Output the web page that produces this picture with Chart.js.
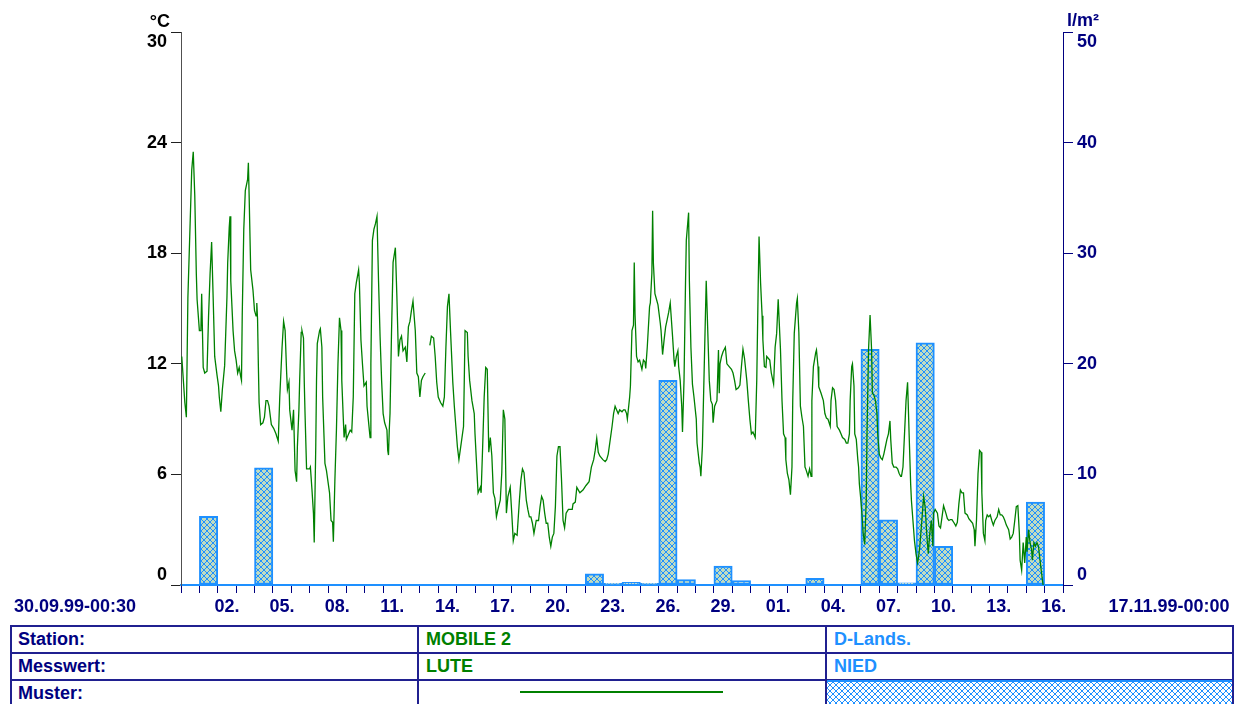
<!DOCTYPE html>
<html>
<head>
<meta charset="utf-8">
<script src="https://cdn.jsdelivr.net/npm/chart.js@4"></script>
<style>
  body { margin: 0; width: 1247px; height: 704px; overflow: hidden; background: #fff; position: relative; font-family: "Liberation Sans", Arial, sans-serif; }
  #grafico { position: absolute; left: 0; top: 0; }
  .linea { position: absolute; background: #202090; }
  .txt { position: absolute; font-weight: bold; font-size: 18px; line-height: 27px; white-space: nowrap; }
</style>
</head>
<body>
<canvas id="grafico" width="1247" height="620"></canvas>

<div class="linea" style="left:10px; top:625px; width:1224px; height:2px;"></div>
<div class="linea" style="left:10px; top:652px; width:1224px; height:2px;"></div>
<div class="linea" style="left:10px; top:679px; width:1224px; height:2px;"></div>
<div class="linea" style="left:10px; top:625px; width:2px; height:90px;"></div>
<div class="linea" style="left:417px; top:625px; width:2px; height:90px;"></div>
<div class="linea" style="left:825px; top:625px; width:2px; height:90px;"></div>
<div class="linea" style="left:1232px; top:625px; width:2px; height:90px;"></div>

<div class="txt" style="left:18px; top:626px; color:#000080;">Station:</div>
<div class="txt" style="left:18px; top:653px; color:#000080;">Messwert:</div>
<div class="txt" style="left:18px; top:680px; color:#000080;">Muster:</div>
<div class="txt" style="left:426px; top:626px; color:#008000;">MOBILE 2</div>
<div class="txt" style="left:426px; top:653px; color:#008000;">LUTE</div>
<div class="txt" style="left:834px; top:626px; color:#1e90ff;">D-Lands.</div>
<div class="txt" style="left:834px; top:653px; color:#1e90ff;">NIED</div>
<div style="position:absolute; left:520px; top:691px; width:203px; height:2px; background:#008000;"></div>
<div id="muster" style="position:absolute; left:827px; top:680px; width:405px; height:30px; border-top:2px solid #1e90ff; box-sizing:border-box;"></div>

<script>
// Tiempos (horas desde 30.09.99 00:00) y temperatura del aire (°C), estación MOBILE 2
const lute = [
  [1,12.4],[5,9.9],[7,9.1],[9,15.6],[14,22.5],[16,23.5],[18,21.1],[20,16.9],[21,15.5],[24,13.8],[26,13.8],[27,15.8],[28,13.8],[29,11.8],[31,11.5],[34,11.6],[36,14.6],[38,16.9],[40,18.6],[42,15.6],[44,12.4],[47,11.4],[49,10.8],[50,10.2],[52,9.4],[54,10.6],[57,11.9],[60,15.6],[61,17.5],[63,19.4],[64,20.0],[65,16.5],[68,13.8],[70,12.7],[72,12.2],[74,11.5],[76,11.8],[78,11.3],[79,11.1],[80,14.7],[82,19.3],[84,21.4],[87,22.0],[88,22.9],[89,21.1],[91,17.1],[94,16.0],[96,14.9],[98,14.6],[99,15.3],[100,14.4],[101,12.0],[102,9.9],[104,8.7],[107,8.8],[109,9.1],[111,10.0],[113,10.0],[115,9.7],[118,8.7],[121,8.5],[124,8.2],[127,7.8],[129,10.2],[132,12.9],[134,14.3],[136,13.8],[138,11.5],[139,10.6],[141,11.0],[142,9.5],[145,8.4],[147,9.5],[149,6.2],[151,5.6],[152,7.5],[154,9.5],[155,11.1],[157,13.7],[158,13.8],[160,13.4],[161,11.0],[162,9.3],[164,6.3],[168,6.3],[169,6.4],[171,5.2],[173,3.9],[174,2.3],[176,7.5],[177,11.1],[178,13.1],[181,13.8],[182,13.9],[184,12.9],[185,10.2],[188,6.6],[190,6.2],[194,5.0],[196,3.5],[198,3.4],[199,2.35],
  [201,5.7],[203,8.4],[205,12.0],[207,14.5],[209,13.8],[210,11.1],[212,9.0],[213,8.0],[215,8.7],[216,7.9],[219,8.2],[221,8.4],[223,8.3],[225,10.2],[227,15.8],[229,16.4],[232,17.1],[233,16.4],[235,13.3],[237,12.0],[239,10.8],[242,11.0],[243,9.7],[246,8.4],[247,8.0],[248,12.0],[250,18.7],[252,19.3],[254,19.6],[256,20.0],[258,16.5],[260,13.5],[262,11.1],[264,9.3],[266,8.8],[269,8.4],[270,7.3],[271,7.05],[272,8.4],[273,9.3],[275,13.8],[277,17.5],[280,18.3],[282,15.6],[284,12.4],[286,13.3],[288,13.5],[290,12.7],[293,12.9],[295,12.1],[297,14.0],[299,14.3],[301,14.9],[303,15.4],[306,13.8],[308,11.5],[310,11.3],[312,10.2],[314,11.1],[316,11.3],[319,11.5],[321,null],[325,13.0],[327,13.5],[330,13.4],[332,12.4],[334,11.0],[336,10.2],[339,9.9],[342,9.7],[344,10.2],[346,12.9],[348,15.1],[350,15.8],[352,13.8],[355,11.0],[357,9.7],[359,8.6],[361,7.5],[363,6.8],[366,7.7],[369,8.6],[370,11.1],[371,13.8],[374,13.7],[375,12.4],[377,11.1],[380,10.0],[383,9.3],[384,8.2],[386,6.6],[388,5.0],[391,5.3],[392,5.0],[394,7.5],[396,10.2],[398,11.8],[400,11.7],
  [402,7.2],[404,8.0],[406,7.0],[408,5.0],[410,4.7],[412,3.7],[414,4.1],[417,4.6],[419,6.1],[421,9.5],[423,9.0],[425,3.9],[427,4.8],[430,5.3],[432,3.9],[434,2.4],[436,2.8],[439,2.7],[442,4.6],[444,5.7],[446,6.3],[448,6.1],[451,4.6],[453,4.1],[455,3.7],[457,3.7],[459,3.35],[461,2.8],[464,3.5],[467,3.5],[469,4.25],[471,4.8],[473,4.6],[475,3.9],[477,3.35],[479,3.35],[481,2.6],[483,2.1],[485,2.6],[487,2.8],[489,4.25],[491,7.0],[493,7.5],[495,7.5],[497,5.7],[499,3.5],[501,3.1],[503,3.9],[506,4.1],[508,4.1],[511,4.1],[512,4.4],[515,4.5],[517,5.3],[519,5.15],[521,5.0],[525,5.15],[529,5.4],[533,5.6],[536,6.4],[539,6.8],[541,7.3],[543,7.96],[545,7.2],[547,7.0],[551,6.8],[554,6.7],[556,6.8],[558,7.1],[560,7.7],[563,8.6],[565,9.3],[567,9.7],[569,9.5],[571,9.3],[573,9.5],[576,9.4],[578,9.5],[580,9.5],[582,9.3],[583,9.0],[586,10.2],[587,10.8],[589,13.8],[591,14.1],[592,17.5],[593,14.7],[595,12.4],[597,12.1],[599,12.2],
  [602,11.7],[604,12.2],[606,12.1],[607,11.75],[609,12.9],[612,15.1],[613,15.3],[615,16.9],[616,20.3],[617,17.45],[619,15.8],[621,15.5],[623,15.2],[626,14.2],[627,13.8],[629,12.5],[631,13.3],[633,14.0],[635,14.4],[637,14.8],[639,15.3],[640,14.7],[642,13.5],[644,12.2],[645,11.85],[647,12.4],[649,12.7],[650,11.85],[652,11.1],[654,9.7],[655,8.3],[657,11.1],[659,16.5],[660,18.7],[663,20.2],[664,16.5],[666,12.9],[668,10.9],[670,10.2],[673,9.0],[674,7.7],[677,6.6],[678,6.4],[679,5.9],[681,7.5],[683,11.1],[685,14.7],[686,16.5],[688,13.8],[690,11.1],[692,10.0],[694,9.8],[695,8.8],[697,9.7],[700,10.0],[702,12.75],[703,10.4],[704,12.0],[706,12.4],[708,12.65],[711,12.9],[713,12.0],[716,11.85],[719,11.7],[721,11.5],[723,11.1],[725,10.6],[728,10.7],[730,10.85],[732,11.85],[734,12.8],[736,12.3],[739,11.1],[741,10.0],[743,9.0],[745,8.2],[747,8.3],[750,8.0],[752,11.1],[754,16.5],[755,18.9],[757,16.4],[759,14.6],[760,13.3],[762,11.85],[764,11.8],[765,12.4],[767,12.3],[769,12.2],[771,11.5],[774,10.9],[776,12.9],[778,13.65],[780,15.5],[781,15.5],[783,12.75],[785,10.0],[787,8.2],[789,8.0],[790,6.8],[792,6.05],[794,5.7],[796,4.9],[798,6.4],[799,10.0],
  [801,13.65],[804,15.3],[805,15.55],[807,13.7],[809,9.7],[811,9.1],[813,8.6],[815,6.4],[816,6.3],[819,5.9],[821,6.3],[823,5.9],[824,10.0],[826,11.85],[829,12.6],[830,12.75],[832,11.85],[833,10.75],[836,10.4],[839,10.0],[841,9.3],[843,9.05],[845,9.0],[848,8.6],[849,10.0],[851,10.7],[853,10.6],[855,10.0],[857,8.6],[860,8.4],[862,8.2],[864,8.0],[867,7.9],[869,7.7],[871,7.7],[873,8.2],[874,10.0],[876,11.85],[877,12.0],[879,10.8],[880,8.2],[882,7.9],[884,6.8],[885,6.4],[886,5.5],[888,4.6],[890,3.5],[891,2.8],[893,2.2],[895,4.6],[896,8.2],[898,12.75],[900,14.65],[902,12.75],[903,10.4],[905,10.3],[907,10.0],[909,9.3],[910,8.2],[912,7.1],[914,6.9],[916,6.8],[918,7.1],[920,7.5],[922,7.9],[924,8.2],[926,8.9],[927,7.9],[929,6.6],[931,6.4],[934,6.4],[936,6.3],[938,6.05],[940,5.9],[941,5.9],[943,6.4],[945,8.2],[947,10.0],[949,11.0],[951,8.2],[953,5.5],[954,4.6],[956,3.5],[958,2.4],[960,1.7],[962,1.2],[963,1.4],[965,2.1],[968,3.7],[970,4.8],[972,4.2],[974,2.8],[976,1.7],[978,2.8],[980,3.5],[982,2.1],[983,3.9],[985,4.1],[988,3.9],[990,3.2],[992,3.1],[994,3.7],[996,4.3],[999,3.9],
  [1001,3.6],[1003,3.5],[1005,3.55],[1007,3.55],[1010,3.35],[1012,3.2],[1014,3.4],[1016,4.4],[1018,5.15],[1020,5.0],[1022,5.0],[1024,3.9],[1027,3.8],[1029,3.6],[1031,3.5],[1034,3.35],[1036,3.0],[1037,2.1],[1039,3.5],[1041,6.05],[1043,7.3],[1045,7.2],[1046,5.0],[1048,2.8],[1050,2.4],[1051,3.5],[1053,3.8],[1055,3.7],[1057,3.8],[1059,3.5],[1061,3.25],[1063,3.5],[1066,3.7],[1068,4.1],[1070,3.8],[1072,3.8],[1074,3.7],[1076,3.5],[1078,3.25],[1081,3.0],[1083,2.5],[1085,2.6],[1087,2.8],[1089,3.5],[1091,4.25],[1093,4.3],[1095,2.8],[1096,1.35],[1098,0.8],[1100,2.3],[1102,1.2],[1104,2.6],[1105,1.8],[1107,3.0],[1109,2.3],[1111,1.9],[1112,1.35],[1114,2.3],[1116,2.1],[1118,2.3],[1120,2.1],[1121,1.7],[1123,1.0],[1125,0.3],[1126,0.0]
];

// Niederschlag (l/m²) por día, desde el 30.09 hasta el 16.11
const nied = [
  0, 6.2, 0, 0, 10.6, 0, 0, 0, 0, 0,
  0, 0, 0, 0, 0, 0, 0, 0, 0, 0,
  0, 0, 1.0, 0.15, 0.25, 0.15, 18.5, 0.5, 0, 1.7,
  0.4, 0, 0, 0, 0.6, 0, 0, 21.3, 5.9, 0.2,
  21.9, 3.5, 0, 0, 0, 0, 7.5, 0
];

// Etiquetas del eje x (día del mes) y el índice de día donde van
const etiquetasDias = ['02.', '05.', '08.', '11.', '14.', '17.', '20.', '23.', '26.', '29.', '01.', '04.', '07.', '10.', '13.', '16.'];
const indicesDias = [2, 5, 8, 11, 14, 17, 20, 23, 26, 29, 32, 35, 38, 41, 44, 47];

const inicio = '30.09.99-00:30';
const fin = '17.11.99-00:00';

const fuente = '"Liberation Sans", Arial, sans-serif';
const azulOscuro = '#000080';
const azul = '#1e90ff';

// Trama cruzada para las barras
function trama(fondo) {
  const c = document.createElement('canvas');
  c.width = 6; c.height = 6;
  const g = c.getContext('2d');
  if (fondo) { g.fillStyle = fondo; g.fillRect(0, 0, 6, 6); }
  g.fillStyle = azul;
  for (let i = 0; i < 6; i++) {
    g.fillRect(i, i, 1, 1);
    g.fillRect(5 - i, i, 1, 1);
  }
  return c;
}

const grafico = document.getElementById('grafico').getContext('2d');
const patron = grafico.createPattern(trama('#c0dcc0'), 'repeat');
document.getElementById('muster').style.backgroundImage = 'url(' + trama('#ffffff').toDataURL() + ')';

const datosLinea = lute.map(p => ({ x: p[0], y: p[1] }));
const datosBarras = nied.map((v, d) => ({ x: d * 24 + 12, y: v }));

const textos = {
  id: 'textos',
  afterDraw(chart) {
    const c = chart.ctx;
    c.save();
    c.font = 'bold 18px ' + fuente;
    c.textBaseline = 'alphabetic';
    c.fillStyle = '#000';
    c.textAlign = 'right';
    c.fillText('°C', 170, 27);
    c.fillStyle = azulOscuro;
    c.textAlign = 'left';
    c.fillText('l/m²', 1067, 26);
    c.textBaseline = 'middle';
    c.textAlign = 'center';
    c.fillText(inicio, 75, 607);
    c.fillText(fin, 1169, 607);
    c.restore();
  }
};

new Chart(grafico, {
  type: 'bar',
  data: {
    datasets: [
      {
        type: 'line',
        label: 'LUTE',
        data: datosLinea,
        yAxisID: 'y',
        borderColor: '#008000',
        borderWidth: 1.3,
        pointRadius: 0,
        tension: 0,
        spanGaps: false,
        order: 0
      },
      {
        type: 'bar',
        label: 'NIED',
        data: datosBarras,
        yAxisID: 'y1',
        backgroundColor: patron,
        borderColor: azul,
        borderWidth: 2,
        borderSkipped: false,
        barPercentage: 1,
        categoryPercentage: 1,
        order: 1
      }
    ]
  },
  options: {
    responsive: false,
    animation: false,
    layout: { padding: { top: 32, left: 0, right: 0, bottom: 0 } },
    plugins: { legend: { display: false }, tooltip: { enabled: false } },
    scales: {
      x: {
        type: 'linear',
        min: 0,
        max: 1152,
        offset: false,
        border: { color: azul, width: 2 },
        grid: { offset: false, drawOnChartArea: false, drawTicks: true, tickLength: 8, tickColor: azulOscuro },
        ticks: {
          stepSize: 24,
          autoSkip: false,
          maxRotation: 0,
          labelOffset: 9.19,
          padding: 3,
          color: azulOscuro,
          font: { family: fuente, size: 18, weight: 'bold' },
          callback: v => {
            const i = indicesDias.indexOf(Math.round(v / 24));
            return i >= 0 ? etiquetasDias[i] : '';
          }
        },
        afterFit: s => { s.height = 35; }
      },
      y: {
        position: 'left',
        min: 0,
        max: 30,
        border: { color: '#505050', width: 1 },
        grid: { drawOnChartArea: false, drawTicks: true, tickLength: 10, tickColor: '#202020' },
        ticks: {
          stepSize: 6,
          padding: 4,
          color: '#000',
          font: { family: fuente, size: 18, weight: 'bold', lineHeight: 1.1 },
          callback: v => v === 30 ? ['', '30'] : (v === 0 ? ['0', ''] : String(v))
        },
        afterFit: s => { s.width = 181; }
      },
      y1: {
        position: 'right',
        min: 0,
        max: 50,
        border: { color: azulOscuro, width: 1 },
        grid: { drawOnChartArea: false, drawTicks: true, tickLength: 10, tickColor: azulOscuro },
        ticks: {
          stepSize: 10,
          padding: 4,
          color: azulOscuro,
          font: { family: fuente, size: 18, weight: 'bold', lineHeight: 1.1 },
          callback: v => v === 50 ? ['', '50'] : (v === 0 ? ['0', ''] : String(v))
        },
        afterFit: s => { s.width = 184; }
      }
    }
  },
  plugins: [textos]
});
</script>
</body>
</html>
